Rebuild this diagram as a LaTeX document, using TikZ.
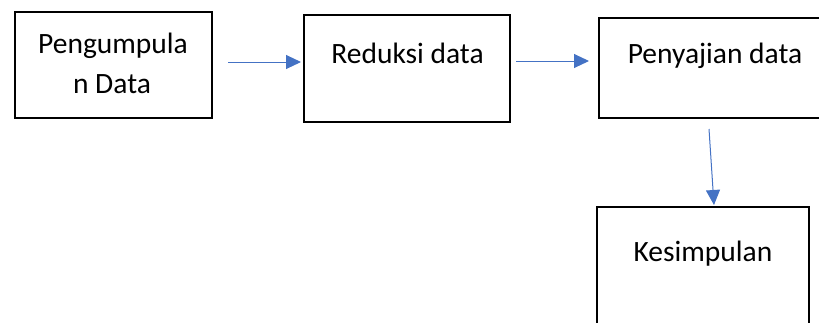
\documentclass[tikz,border=0pt]{standalone}
\usepackage{fontspec}
\setmainfont{Carlito}
\usetikzlibrary{arrows.meta}
\definecolor{flowblue}{HTML}{4472C4}
\tikzset{
  stagebox/.style={draw=black, line width=2pt, rectangle, inner sep=0pt},
  stagetext/.style={anchor=base, inner sep=0pt, font=\fontsize{29.5}{40}\selectfont},
  flow/.style={draw=flowblue, line width=1pt, -{Triangle[length=15pt,width=14pt]}, flowblue}
}
\begin{document}
\begin{tikzpicture}[x=1pt,y=-1pt]
  \useasboundingbox (0,0) rectangle (819,322);
  \clip (0,0) rectangle (819,322);
  % process boxes
  \node[stagebox, minimum width=197pt, minimum height=106pt] (collect) at (113.5,65) {};
  \node[stagebox, minimum width=206pt, minimum height=107pt] (reduce) at (407,68.5) {};
  \node[stagebox, minimum width=232pt, minimum height=100pt] (present) at (715,68) {};
  \node[stagebox, minimum width=212pt, minimum height=130pt] (conclude) at (703,272) {};
  % box captions
  \node[stagetext] (collectA) at (113,53) {Pengumpula};
  \node[stagetext] (collectB) at (112,93) {n Data};
  \node[stagetext] (reduceT) at (407.5,63) {Reduksi data};
  \node[stagetext] (presentT) at (715,63) {Penyajian data};
  \node[stagetext] (concludeT) at (703,261) {Kesimpulan};
  % flow arrows (shifts are in canvas units: positive yshift points up)
  \draw[flow] ([xshift=15pt,yshift=3pt]collect.east) -- ([xshift=-2pt,yshift=6.5pt]reduce.west);
  \draw[flow] ([xshift=5pt,yshift=7.5pt]reduce.east) -- ([xshift=-9pt,yshift=7pt]present.west);
  \draw[flow] ([xshift=-6pt,yshift=-10pt]present.south) -- ([xshift=11pt,yshift=1pt]conclude.north);
\end{tikzpicture}
\end{document}
